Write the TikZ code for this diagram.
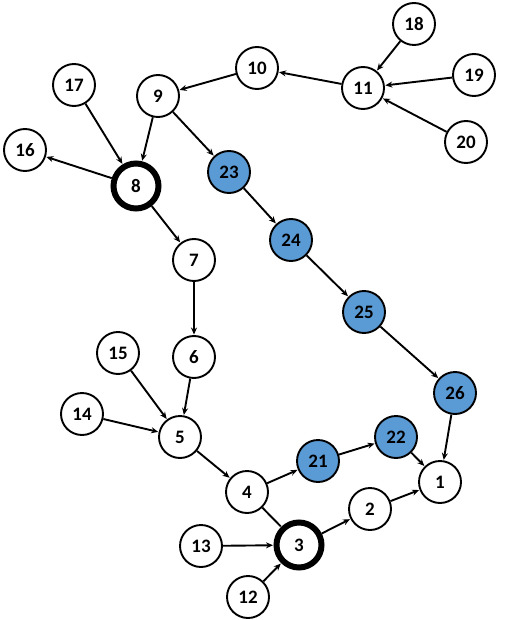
\documentclass[tikz,border=0pt]{standalone}
\usepackage{fontspec}
\setmainfont{Carlito}
\usepackage{xcolor}
\usetikzlibrary{automata, arrows.meta}
\definecolor{nodeblue}{HTML}{5B9BD5}

\begin{document}
\begin{tikzpicture}[x=1pt,y=-1pt,shorten >=0.5pt,line width=1.9pt,
        >={Stealth[length=7pt,width=6pt]},
        font=\bfseries\fontsize{19}{22}\selectfont,
        every state/.style={draw,circle,minimum size=42pt,inner sep=0pt,
          line width=1.9pt},
        visited/.style={fill=nodeblue},
        hub/.style={line width=6pt,minimum size=45pt}]
       \useasboundingbox (0,0) rectangle (511,620);

       \node[state] (n18) at (414,24) {18};
       \node[state] (n10) at (257,68) {10};
       \node[state] (n11) at (363,88) {11};
       \node[state] (n19) at (474,75) {19};
       \node[state] (n17) at (74,85) {17};
       \node[state] (n9) at (158,96) {9};
       \node[state] (n20) at (466,142) {20};
       \node[state] (n16) at (25,150) {16};
       \node[state,hub] (n8) at (136,186) {8};
       \node[state,visited] (n23) at (229,172) {23};
       \node[state,visited] (n24) at (291,240) {24};
       \node[state] (n7) at (194,260) {7};
       \node[state,visited] (n25) at (364,312) {25};
       \node[state] (n15) at (118,353) {15};
       \node[state] (n6) at (194,357) {6};
       \node[state,visited] (n26) at (455,393) {26};
       \node[state] (n14) at (82,414) {14};
       \node[state] (n5) at (180,437) {5};
       \node[state,visited] (n22) at (396,437) {22};
       \node[state,visited] (n21) at (318,461) {21};
       \node[state] (n1) at (440,482) {1};
       \node[state] (n4) at (247,492) {4};
       \node[state] (n2) at (370,509) {2};
       \node[state] (n13) at (201,546) {13};
       \node[state,hub] (n3) at (299,545) {3};
       \node[state] (n12) at (248,597) {12};

       \path[->]
       (n18) edge (n11)
       (n19) edge (n11)
       (n20) edge (n11)
       (n11) edge (n10)
       (n10) edge (n9)
       (n9) edge (n8)
            edge (n23)
       (n17) edge (n8)
       (n8) edge (n16)
            edge (n7)
       (n23) edge (n24)
       (n24) edge (n25)
       (n25) edge (n26)
       (n26) edge (n1)
       (n7) edge (n6)
       (n6) edge (n5)
       (n15) edge (n5)
       (n14) edge (n5)
       (n5) edge (n4)
       (n4) edge (n21)
            edge [-] (n3)
       (n21) edge (n22)
       (n22) edge (n1)
       (n13) edge (n3)
       (n12) edge (n3)
       (n3) edge (n2)
       (n2) edge (n1);
    \end{tikzpicture}
\end{document}
